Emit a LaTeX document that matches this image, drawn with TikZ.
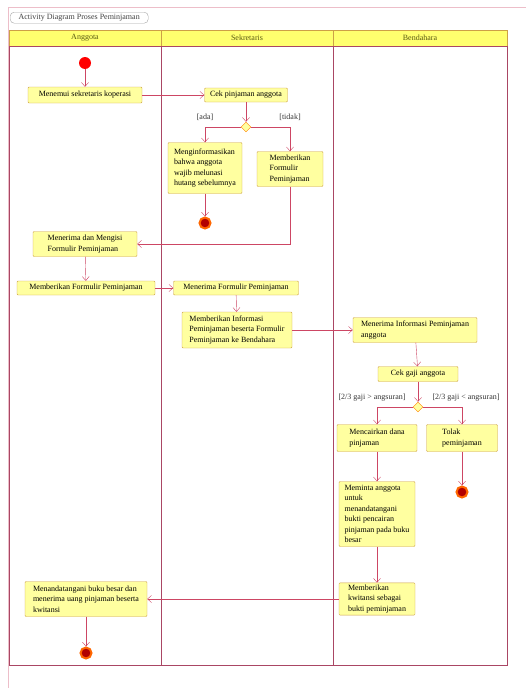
\documentclass[tikz,border=0pt]{standalone}
\usepackage{fontspec}
\setmainfont{Liberation Serif}
\usetikzlibrary{shapes.geometric, arrows.meta, positioning, calc}

\definecolor{actfill}{RGB}{255,255,160}
\definecolor{actline}{RGB}{205,160,70}
\definecolor{flowline}{RGB}{205,70,100}
\definecolor{laneline}{RGB}{170,70,100}
\definecolor{headfill}{RGB}{255,255,110}
\definecolor{headtext}{RGB}{90,90,20}

\begin{document}
\begin{tikzpicture}[x=1pt, y=-1pt,
      font=\fontsize{8}{10.5}\selectfont,
      action/.style={rectangle, draw=actline, fill=actfill, rounded corners=1pt, align=left, inner sep=2pt},
      decision/.style={diamond, draw=orange, fill=actfill, minimum size=10pt, inner sep=0pt},
      startnode/.style={circle, fill=red, minimum size=12pt, inner sep=0pt},
      endnode/.style={circle, draw=orange!80!red, line width=2pt, fill=red!70!black, minimum size=11pt, inner sep=0pt},
      flow/.style={draw=flowline, -{Straight Barb[length=4pt,width=7pt]}},
      lane/.style={draw=laneline, line width=0.6pt},
      header/.style={rectangle, draw=actline, fill=headfill, text=headtext, minimum height=16pt, inner sep=0pt},
      tab/.style={rectangle, draw=black!35, fill=white, rounded corners=4pt, minimum width=138pt, minimum height=11pt, inner sep=0pt, text=black!75},
      guard/.style={text=black!80, inner sep=1pt}
    ]
    \useasboundingbox (0,0) rectangle (526,688);

    % frame and swimlanes
    \draw[flowline!35] (8,7) rectangle (540,700);
    \node[tab, anchor=north west] (judul) at (10,12) {Activity Diagram Proses Peminjaman};
    \node[header, minimum width=152pt] (hAnggota) at (85,38) {Anggota};
    \node[header, minimum width=172pt] (hSekretaris) at (247,38) {Sekretaris};
    \node[header, minimum width=174pt] (hBendahara) at (420,38) {Bendahara};
    \draw[lane] (9,46) rectangle (507,665);
    \draw[lane] (161,46) -- (161,665);
    \draw[lane] (333,46) -- (333,665);

    % Anggota / Sekretaris
    \node[startnode] (mulai) at (85,63) {};
    \node[action, minimum width=114pt, minimum height=16pt] (menemui) at (85,95) {Menemui sekretaris koperasi};
    \node[action, minimum width=83pt, minimum height=14pt] (cekPinjam) at (246,95) {Cek pinjaman anggota};
    \node[decision] (cabang1) at (246,127) {};
    \node[action, minimum width=74pt, minimum height=51pt] (infoHutang) at (205,168) {Menginformasikan\\ bahwa anggota\\ wajib melunasi\\ hutang sebelumnya};
    \node[action, minimum width=66pt, minimum height=35pt] (beriForm) at (290,169) {Memberikan\\ Formulir\\ Peminjaman};
    \node[endnode] (akhir1) at (205,223) {};
    \node[action, minimum width=104pt, minimum height=25pt] (isiForm) at (85,244) {Menerima dan Mengisi\\ Formulir Peminjaman};
    \node[action, minimum width=138pt, minimum height=14pt] (serahForm) at (86,288) {Memberikan Formulir Peminjaman};
    \node[action, minimum width=125pt, minimum height=14pt] (terimaForm) at (236,288) {Menerima Formulir Peminjaman};
    \node[action, minimum width=110pt, minimum height=36pt] (beriInfo) at (237,330) {Memberikan Informasi\\ Peminjaman beserta Formulir\\ Peminjaman ke Bendahara};

    % Bendahara
    \node[action, minimum width=124pt, minimum height=25pt] (terimaInfo) at (415,330) {Menerima Informasi Peminjaman\\ anggota};
    \node[action, minimum width=80pt, minimum height=15pt] (cekGaji) at (418,374) {Cek gaji anggota};
    \node[decision] (cabang2) at (418,407) {};
    \node[action, minimum width=80pt, minimum height=27pt] (cairkan) at (377,438) {Mencairkan dana\\ pinjaman};
    \node[action, minimum width=71pt, minimum height=27pt] (tolak) at (462,438) {Tolak\\ peminjaman};
    \node[endnode] (akhir2) at (462,492) {};
    \node[action, minimum width=76pt, minimum height=65pt] (minta) at (377,514) {Meminta anggota\\ untuk\\ menandatangani\\ bukti pencairan\\ pinjaman pada buku\\ besar};
    \node[action, minimum width=76pt, minimum height=32pt] (kwitansi) at (377,599) {Memberikan\\ kwitansi sebagai\\ bukti peminjaman};
    \node[action, minimum width=122pt, minimum height=35pt] (tandaTangan) at (86,599) {Menandatangani buku besar dan\\ menerima uang pinjaman beserta\\ kwitansi};
    \node[endnode] (akhir3) at (86,653) {};

    \draw[flow] (mulai) -- (menemui);
    \draw[flow] (menemui) -- (cekPinjam);
    \draw[flow] (cekPinjam) -- (cabang1);
    \draw[flow] (cabang1.west) -| node[guard, pos=0.5, above=5pt] {[ada]} (infoHutang.north);
    \draw[flow] (cabang1.east) -| node[guard, pos=0.5, above=5pt] {[tidak]} (beriForm.north);
    \draw[flow] (infoHutang) -- (akhir1);
    \draw[flow] (beriForm.south) |- (isiForm.east);
    \draw[flow] (isiForm) -- (serahForm);
    \draw[flow] (serahForm) -- (terimaForm);
    \draw[flow] (terimaForm) -- (beriInfo);
    \draw[flow] (beriInfo) -- (terimaInfo);
    \draw[flow] (terimaInfo) -- (cekGaji);
    \draw[flow] (cekGaji) -- (cabang2);
    \draw[flow] (cabang2.west) -| node[guard, pos=0.5, above=5pt, xshift=-5pt] {[2/3 gaji > angsuran]} (cairkan.north);
    \draw[flow] (cabang2.east) -| node[guard, pos=0.5, above=5pt, xshift=4pt] {[2/3 gaji < angsuran]} (tolak.north);
    \draw[flow] (tolak) -- (akhir2);
    \draw[flow] (cairkan) -- (minta);
    \draw[flow] (minta) -- (kwitansi);
    \draw[flow] (kwitansi) -- (tandaTangan);
    \draw[flow] (tandaTangan) -- (akhir3);
  \end{tikzpicture}
\end{document}
